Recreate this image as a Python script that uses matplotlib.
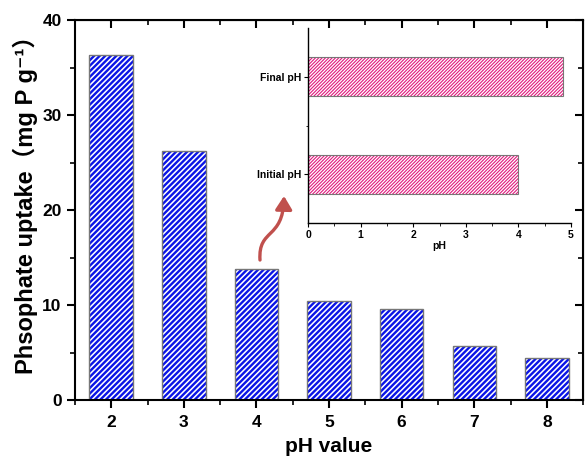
import matplotlib
matplotlib.use("Agg")
import matplotlib.pyplot as plt
from matplotlib.patches import FancyArrowPatch
from matplotlib.path import Path
from matplotlib.transforms import Affine2D

ph_values = [2, 3, 4, 5, 6, 7, 8]
uptake = [36.3, 26.2, 13.8, 10.4, 9.6, 5.7, 4.4]
inset_labels = ["Initial pH", "Final pH"]
inset_values = [4.0, 4.85]

plt.rcParams['font.family'] = ['Liberation Sans', 'DejaVu Sans']
plt.rcParams['font.weight'] = 'bold'

fig = plt.figure(figsize=(5.85, 4.57), dpi=100)
ax = fig.add_axes([0.128, 0.1247, 0.869, 0.8315])

BLUE = '#0a14e6'
PINK = '#e0197d'
with plt.rc_context({'hatch.linewidth': 1.7, 'hatch.color': BLUE}):
    bars = ax.bar(ph_values, uptake, width=0.6, facecolor='white',
                  edgecolor=BLUE, hatch='//////', linewidth=0)
    for b in bars:
        if hasattr(b, 'set_hatch_linewidth'):
            b.set_hatch_linewidth(1.7)
ax.bar(ph_values, uptake, width=0.6, facecolor='none', edgecolor='#777777', linewidth=1.0)

ax.set_xlim(1.5, 8.5)
ax.set_ylim(0, 40)
ax.set_xticks(ph_values)
ax.set_xticks([x + 0.5 for x in range(1, 9)], minor=True)
ax.set_yticks([0, 10, 20, 30, 40])
ax.set_yticks([5, 15, 25, 35], minor=True)
for s in ax.spines.values():
    s.set_linewidth(1.5)
ax.tick_params(which='major', direction='out', length=6, width=1.5, labelsize=12.5, pad=5)
ax.tick_params(axis='y', which='major', pad=3.5)
ax.tick_params(which='minor', direction='out', length=3.5, width=1.2)
for lab in ax.get_xticklabels() + ax.get_yticklabels():
    lab.set_fontweight('bold')

secx = ax.secondary_xaxis('top')
secx.set_xticks(ph_values)
secx.set_xticks([x + 0.5 for x in range(1, 9)], minor=True)
secx.tick_params(which='major', direction='in', length=6, width=1.5, labeltop=False)
secx.tick_params(which='minor', direction='in', length=3.5, width=1.2)
secy = ax.secondary_yaxis('right')
secy.set_yticks([0, 10, 20, 30, 40])
secy.set_yticks([5, 15, 25, 35], minor=True)
secy.tick_params(which='major', direction='in', length=6, width=1.5, labelright=False)
secy.tick_params(which='minor', direction='in', length=3.5, width=1.2)

ax.set_xlabel('pH value', fontsize=15, fontweight='bold', labelpad=5)
ax.set_ylabel('Phsophate uptake\uff08mg P g\u207b\u00b9\uff09', fontsize=17, fontweight='bold',
              family=['Liberation Sans', 'Noto Sans CJK SC', 'DejaVu Sans'])
ax.yaxis.set_label_coords(-0.072, 0.53)

# inset
iax = fig.add_axes([0.5265, 0.512, 0.4496, 0.4267])
iax.patch.set_facecolor('white')
with plt.rc_context({'hatch.linewidth': 0.8, 'hatch.color': PINK}):
    ib = iax.barh([0, 1], inset_values, height=0.4, facecolor='white',
                  edgecolor=PINK, hatch='//////////', linewidth=0)
    for b in ib:
        if hasattr(b, 'set_hatch_linewidth'):
            b.set_hatch_linewidth(0.8)
iax.barh([0, 1], inset_values, height=0.4, facecolor='none', edgecolor='#777777', linewidth=0.8)
iax.set_xlim(0, 5)
iax.set_ylim(-0.5, 1.5)
iax.set_yticks([0, 1])
iax.set_yticklabels(inset_labels)
iax.set_yticks([0.5], minor=True)
iax.set_xticks([0, 1, 2, 3, 4, 5])
iax.set_xticks([0.5, 1.5, 2.5, 3.5, 4.5], minor=True)
iax.spines['top'].set_visible(False)
iax.spines['right'].set_visible(False)
iax.spines['left'].set_linewidth(1.0)
iax.spines['bottom'].set_linewidth(1.0)
iax.tick_params(which='major', direction='out', length=3, width=0.8, labelsize=7.5, pad=2)
iax.tick_params(which='minor', direction='out', length=1.8, width=0.6)
for lab in iax.get_xticklabels() + iax.get_yticklabels():
    lab.set_fontweight('bold')
iax.set_xlabel('pH', fontsize=7.5, fontweight='bold', labelpad=1)

H = 457
verts = [(260, H - 260), (258, H - 228), (283, H - 240), (284, H - 196)]
codes = [Path.MOVETO, Path.CURVE4, Path.CURVE4, Path.CURVE4]
arrow = FancyArrowPatch(path=Path(verts, codes), transform=Affine2D(),
                        arrowstyle='-|>,head_length=8,head_width=5',
                        color='#c0504d', linewidth=2.4)
fig.patches.append(arrow)

fig.savefig('out.png', dpi=100)
